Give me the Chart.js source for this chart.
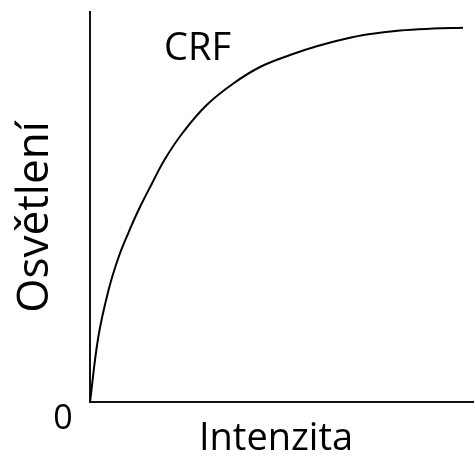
<!DOCTYPE html>
<html>
<head>
<meta charset="utf-8">
<script src="https://cdn.jsdelivr.net/npm/chart.js@4"></script>
<style>
  body { margin: 0; background: #fff; }
  canvas { display: block; }
</style>
</head>
<body>
<canvas id="crf-chart" width="474" height="457"></canvas>
<script>
    "use strict";

    // Curve (intensity vs. illumination, 0..100)
    const intensity = [0, 2.17, 4.78, 7.39, 10.0, 12.61, 16.11, 19.58, 24.36, 30.47, 37.42, 44.39, 52.22, 59.19, 67.02, 72.25, 80.94, 89.56, 97.39];
    const illumination = [0, 16.67, 28.46, 36.92, 43.33, 49.10, 55.90, 62.31, 69.23, 76.15, 81.67, 85.90, 88.97, 91.23, 93.21, 94.23, 95.26, 95.74, 95.97];

    const xTitle = 'Intenzita';
    const yTitle = 'Osvětlení';
    const curveLabel = 'CRF';
    const originLabel = '0';

    const fontFamily = '"Open Sans", sans-serif';

    // Texts around the plot
    const labelsPlugin = {
        id: 'labels',
        afterDraw: function (chart) {
            const ctx = chart.ctx;
            const area = chart.chartArea;
            ctx.save();
            ctx.fillStyle = '#000';

            ctx.textAlign = 'center';
            ctx.textBaseline = 'alphabetic';
            ctx.font = '38px ' + fontFamily;
            ctx.fillText(xTitle, area.left + 186, area.bottom + 48);

            ctx.font = '34px ' + fontFamily;
            ctx.fillText(originLabel, area.left - 27, area.bottom + 27);

            ctx.textAlign = 'left';
            ctx.font = '38px ' + fontFamily;
            ctx.fillText(curveLabel, area.left + 74, area.top + 48);

            ctx.translate(area.left - 42, (area.top + area.bottom) / 2 + 10);
            ctx.rotate(-Math.PI / 2);
            ctx.textAlign = 'center';
            ctx.font = '44px ' + fontFamily;
            ctx.fillText(yTitle, 0, 0);
            ctx.restore();
        }
    };

    const ctx = document.getElementById('crf-chart').getContext('2d');
    new Chart(ctx, {
        type: 'line',
        data: {
            datasets: [{
                data: intensity.map((x, i) => ({ x: x, y: illumination[i] })),
                borderColor: '#000',
                borderWidth: 2,
                pointRadius: 0,
                pointHoverRadius: 0,
                fill: false,
                tension: 0.4,
            }]
        },
        options: {
            responsive: false,
            animation: false,
            layout: {
                autoPadding: false,
                padding: { left: 90, top: 12, right: 1, bottom: 55 }
            },
            plugins: {
                legend: { display: false },
                tooltip: { enabled: false },
            },
            scales: {
                x: {
                    type: 'linear',
                    min: 0,
                    max: 100,
                    grid: { display: false, drawTicks: false },
                    ticks: { display: false },
                    border: { color: '#111', width: 2 },
                },
                y: {
                    min: 0,
                    max: 100,
                    grid: { display: false, drawTicks: false },
                    ticks: { display: false },
                    border: { color: '#111', width: 2 },
                },
            },
        },
        plugins: [labelsPlugin],
    });
</script>
</body>
</html>
